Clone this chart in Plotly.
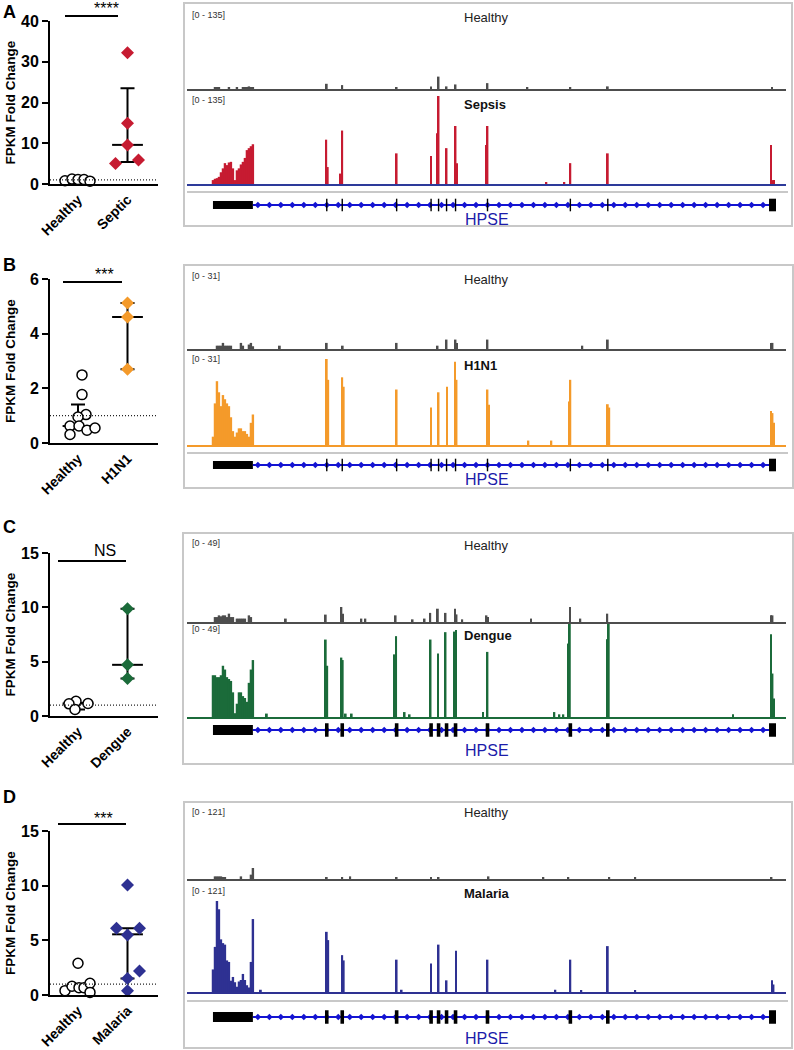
import plotly.graph_objects as go

W, H = 794, 1050
FONT = "Liberation Sans, Arial, sans-serif"

# ---------------- dot plots: FPKM fold change ----------------
DISEASE_TICKS = ["Septic", "H1N1", "Dengue", "Malaria"]
TRACK_NAMES = ["Sepsis", "H1N1", "Dengue", "Malaria"]
DISEASE_COLORS = ["#c61b31", "#f49a2a", "#1b6b3a", "#2e3192"]

A_HEALTHY = [0.8, 1.2, 1.1, 1.1, 0.7]
A_SEPTIC = [32.2, 14.9, 9.6, 5.0, 5.9]
A_SEPTIC_STATS = [9.6, 5.4, 23.5]          # median, low, high

B_HEALTHY = [2.49, 1.77, 1.04, 0.95, 0.62, 0.62, 0.47, 0.55, 0.31]
B_HEALTHY_STATS = [0.62, 0.53, 1.41]
B_H1N1 = [5.12, 4.61, 2.7]
B_H1N1_STATS = [4.61, 2.7, 5.12]

C_HEALTHY = [1.35, 1.15, 1.12, 0.6]
C_HEALTHY_STATS = [1.15, 0.6, 1.2]
C_DENGUE = [9.86, 4.71, 3.46]
C_DENGUE_STATS = [4.71, 3.46, 9.86]

D_HEALTHY = [2.9, 0.4, 0.8, 0.67, 0.67, 1.07, 0.24]
D_HEALTHY_STATS = [0.7, 0.46, 1.0]
D_MALARIA = [10.06, 6.1, 6.1, 5.49, 2.2, 1.52, 0.4]
D_MALARIA_STATS = [5.55, 1.52, 6.1]

SIGNIF = ["****", "***", "NS", "***"]
Y_MAX = [40, 6, 15, 15]
Y_DTICK = [10, 2, 5, 5]

# ---------------- coverage tracks (HPSE locus) ----------------
TRACK_SCALE = [135, 31, 49, 121]
EXON1_BINS = [26, 28, 30, 32, 34, 36, 38, 40, 42, 44, 46, 48, 50, 52, 54, 56, 58, 60, 62, 64, 66]

SEPSIS_EXON1 = [6, 8, 9, 11, 18, 24, 32, 29, 33, 34, 24, 6, 21, 24, 30, 34, 40, 52, 55, 58, 61]
SEPSIS_PEAK_POS = [139.5, 141, 154, 155.5, 210, 244.5, 250.5, 252, 260, 269, 270.5, 299.5, 301,
                   360, 378, 384, 421.5, 585, 586.5, 588]
SEPSIS_PEAK_VAL = [68, 26, 16, 82, 47, 43, 78, 135, 55, 89, 32, 60, 89, 3, 3, 32, 47, 60, 6, 6]
HEALTHY_A_EXON1 = [0, 2, 2, 2, 0, 0, 0, 0, 2, 0, 0, 0, 2, 0, 0, 3, 3, 3, 4, 3, 2]
HEALTHY_A_PEAK_POS = [140, 155.5, 210, 244.5, 252, 260, 269, 301, 341, 384, 421.5, 586]
HEALTHY_A_PEAK_VAL = [8, 6, 3, 4, 19, 4, 7, 9, 2, 3, 4, 3]

H1N1_EXON1 = [3, 15, 23, 19, 14, 18, 16.5, 15, 14, 10, 5, 3, 4.5, 6, 6, 5, 5, 4, 3, 8, 11]
H1N1_PEAK_POS = [140, 141.5, 155.5, 157, 210, 244.5, 252, 260.5, 268.5, 270, 301, 302.5,
                 342, 365, 383, 384, 421.5, 423, 585, 586.5, 588]
H1N1_PEAK_VAL = [31, 23.5, 24.4, 21, 20, 13.5, 19, 21, 30, 23.5, 20, 14.5,
                 1.6, 1.6, 15.7, 23.5, 14.7, 13.5, 12.3, 11.5, 8]
HEALTHY_B_EXON1 = [0, 0, 1.2, 1.2, 1.2, 2.2, 1.2, 1.2, 1.2, 1.2, 0, 0, 0, 0, 2.2, 1.2, 0, 0, 1.6, 2.2, 1.0]
HEALTHY_B_PEAK_POS = [93, 140, 156, 210, 251, 260, 269, 270.5, 301, 396, 421.5, 585, 586.5]
HEALTHY_B_PEAK_VAL = [1.2, 2.2, 1.2, 2.2, 1.2, 3.4, 3.4, 2.2, 3.4, 1.2, 3.4, 2.2, 2.2]

DENGUE_EXON1 = [22, 22, 21, 21, 22, 27, 25, 21, 20, 19, 13, 2, 7, 13, 13, 11, 10, 8, 18, 25, 30]
DENGUE_PEAK_POS = [80, 139, 140.5, 154.7, 156, 159, 165, 208, 209.5, 218, 223, 244, 251.5, 259,
                   268, 269.5, 296.5, 301, 368, 373, 377, 382, 383.5, 421, 422.5, 547, 585, 586.5, 588]
DENGUE_PEAK_VAL = [1.8, 40.8, 27, 31.3, 30, 1.8, 1.8, 33, 42.6, 2.6, 1.4, 40.8, 33.4, 44.7,
                   45, 45.8, 2.6, 34.3, 2.6, 1.4, 1.4, 38.7, 49, 41, 49, 1.4, 43.6, 22.9, 9.7]
HEALTHY_C_EXON1 = [0, 2.6, 2.6, 3.5, 3, 3.5, 3.5, 2.6, 4.4, 2.6, 2.6, 0, 1.8, 1.8, 1.8, 1.8, 1.8, 0, 3.5, 2.6, 0]
HEALTHY_C_PEAK_POS = [99, 139, 154.7, 156.2, 174.7, 178.7, 209, 226, 238, 243.7, 251.3, 259, 268.5,
                      270, 275.7, 300, 301.5, 344.7, 383.7, 394, 421, 585, 586.5]
HEALTHY_C_PEAK_VAL = [1.8, 3.9, 7.9, 4.4, 1.8, 1.8, 3.5, 1.4, 1.8, 4.8, 7, 4.8, 7,
                      4, 1.4, 3.5, 2.6, 1.8, 7.9, 1.8, 4.4, 3.5, 3.5]

MALARIA_EXON1 = [30, 60, 121, 110, 70, 65, 63, 42, 40, 15, 20, 13, 7, 14, 16, 24, 16, 9, 6, 40, 97]
MALARIA_PEAK_POS = [74, 140, 141.5, 155.5, 157, 210, 215, 244.5, 252, 260, 269.5, 301, 369,
                    384, 395, 421.5, 449, 586, 587.5]
MALARIA_PEAK_VAL = [3, 80, 69, 49, 42, 43, 3, 38, 63, 15.5, 55, 43, 3, 43, 2, 61, 2, 15.5, 10]
HEALTHY_D_EXON1 = [0, 3.5, 3.5, 3.5, 3.5, 2.6, 2.6, 0, 0, 0, 0, 0, 0, 0, 3.5, 0, 0, 0, 0, 5.8, 14.6]
HEALTHY_D_PEAK_POS = [140, 155.5, 163.5, 210, 244.5, 252, 302, 357, 382, 423, 449, 585.5]
HEALTHY_D_PEAK_VAL = [2.6, 2, 3.5, 2.6, 2.6, 2.6, 3.5, 1.5, 2.6, 1.5, 2.6, 1.5]

# gene model (same coordinate frame as tracks)
EXON1 = [26, 66]
EXON_CENTERS = [140, 155.5, 210, 244.5, 252, 260, 269, 301, 384, 421.5]
LAST_EXON = [583, 590]

# --------------- layout geometry (pixels) ----------------
PANELS = [
    dict(letter="A", letter_y=12, sc=(21, 184), sig_x=(65, 118), sig_y=16, sig_t=9,
         box=(184, 3, 792, 226), htrk=(1, 89), dtrk=(96, 184), sep=192, gene=205, hpse=219,
         lab=(15, 100), name=(17, 104), base="#2d3a9a", thick=False,
         healthy=(A_HEALTHY, [-13, -6, 0, 6, 12], None),
         disease=(A_SEPTIC, [0, 0, 0, -12, 11], A_SEPTIC_STATS),
         tracks=((HEALTHY_A_EXON1, HEALTHY_A_PEAK_POS, HEALTHY_A_PEAK_VAL),
                 (SEPSIS_EXON1, SEPSIS_PEAK_POS, SEPSIS_PEAK_VAL))),
    dict(letter="B", letter_y=265, sc=(279, 443), sig_x=(63, 122), sig_y=282, sig_t=275,
         box=(184, 265, 793, 488), htrk=(263, 349), dtrk=(359, 445), sep=453, gene=465, hpse=480,
         lab=(276, 359), name=(279, 365), base="#f49a2a", thick=False,
         healthy=(B_HEALTHY, [4, 4, 8, 0, -8, 1, 9, 17, -8], B_HEALTHY_STATS),
         disease=(B_H1N1, [0, 0, 0], B_H1N1_STATS),
         tracks=((HEALTHY_B_EXON1, HEALTHY_B_PEAK_POS, HEALTHY_B_PEAK_VAL),
                 (H1N1_EXON1, H1N1_PEAK_POS, H1N1_PEAK_VAL))),
    dict(letter="C", letter_y=527, sc=(553, 716), sig_x=(58, 126), sig_y=561, sig_t=550,
         box=(183, 533, 793, 764), htrk=(529, 622), dtrk=(624, 717), sep=None, gene=730, hpse=750,
         lab=(543, 629), name=(545, 635), base="#1b6b3a", thick=True,
         healthy=(C_HEALTHY, [-2, 10, -9, -3], C_HEALTHY_STATS),
         disease=(C_DENGUE, [0, 0, 0], C_DENGUE_STATS),
         tracks=((HEALTHY_C_EXON1, HEALTHY_C_PEAK_POS, HEALTHY_C_PEAK_VAL),
                 (DENGUE_EXON1, DENGUE_PEAK_POS, DENGUE_PEAK_VAL))),
    dict(letter="D", letter_y=797, sc=(831, 995), sig_x=(58, 126), sig_y=824, sig_t=818,
         box=(184, 802, 792, 1048), htrk=(788, 879), dtrk=(901, 992), sep=1001, gene=1017, hpse=1038,
         lab=(812, 891), name=(812, 893), base="#2e3192", thick=True,
         healthy=(D_HEALTHY, [0, -13, -6, 1, 6, 12, 12], D_HEALTHY_STATS),
         disease=(D_MALARIA, [0, -11, 12, 0, 12, 0, 0], D_MALARIA_STATS),
         tracks=((HEALTHY_D_EXON1, HEALTHY_D_PEAK_POS, HEALTHY_D_PEAK_VAL),
                 (MALARIA_EXON1, MALARIA_PEAK_POS, MALARIA_PEAK_VAL))),
]

SC_X = (50, 158)
PX_PER_CAT = 49.5
TRK_X = (187, 786)
TRK_RANGE = [0, 600]
HEALTHY_GRAY = "#4d4d4d"
GENE_BLUE = "#1414d2"
BOX_GRAY = "#c8c8c8"


def xdom(a, b):
    return [a / W, b / W]


def ydom(top, bottom):
    return [1 - bottom / H, 1 - top / H]


def py(p):
    return 1 - p / H


def sfx(n):
    return "" if n == 1 else str(n)


fig = go.Figure()
layout = {}
shapes = []
annots = []

for i, P in enumerate(PANELS):
    n_sc, n_h, n_d, n_g = 4 * i + 1, 4 * i + 2, 4 * i + 3, 4 * i + 4
    color = DISEASE_COLORS[i]

    # ---------- dot plot ----------
    xa, ya = "x" + sfx(n_sc), "y" + sfx(n_sc)
    x0 = 1 - (78 - SC_X[0]) / PX_PER_CAT
    x1 = 2 + (SC_X[1] - 127.5) / PX_PER_CAT
    layout["xaxis" + sfx(n_sc)] = dict(
        domain=xdom(*SC_X), range=[x0, x1], anchor=ya, showline=True, linewidth=2,
        linecolor="black", ticks="", tickvals=[1, 2], ticktext=["Healthy", DISEASE_TICKS[i]],
        tickangle=-45, tickfont=dict(size=14, weight=700, color="black"),
        showgrid=False, zeroline=False, automargin=False)
    layout["yaxis" + sfx(n_sc)] = dict(
        domain=ydom(*P["sc"]), range=[0, Y_MAX[i]], dtick=Y_DTICK[i], anchor=xa,
        showline=True, linewidth=2, linecolor="black", ticks="outside", ticklen=6,
        tickwidth=2, tickcolor="black", tickfont=dict(size=16, weight=700, color="black"),
        showgrid=False, zeroline=False, automargin=False)
    shapes.append(dict(type="line", xref=xa + " domain", yref=ya, x0=0, x1=1, y0=1, y1=1,
                       line=dict(color="#222222", width=1.2, dash="1px,2px")))

    for cat, (vals, offs, stats), sym, mcol in (
            (1, P["healthy"], "circle", "white"),
            (2, P["disease"], "diamond", color)):
        if stats is not None:
            med, lo, hi = stats
            fig.add_trace(go.Scatter(
                x=[cat], y=[med], xaxis=xa, yaxis=ya, mode="markers", cliponaxis=False,
                marker=dict(symbol="line-ew", size=22, line=dict(width=2, color="black")),
                error_y=dict(type="data", symmetric=False, array=[hi - med],
                             arrayminus=[med - lo], width=7, thickness=2, color="black"),
                showlegend=False))
        fig.add_trace(go.Scatter(
            x=[cat + o / PX_PER_CAT for o in offs], y=vals, xaxis=xa, yaxis=ya,
            mode="markers", cliponaxis=False,
            marker=dict(symbol=sym, size=10, color=mcol,
                        line=dict(width=1.5 if sym == "circle" else 0, color="black")),
            showlegend=False))

    # significance bar
    shapes.append(dict(type="line", xref="paper", yref="paper",
                       x0=P["sig_x"][0] / W, x1=P["sig_x"][1] / W,
                       y0=py(P["sig_y"]), y1=py(P["sig_y"]),
                       line=dict(color="black", width=2)))
    annots.append(dict(text=SIGNIF[i], x=(P["sig_x"][0] + P["sig_x"][1]) / 2 / W,
                       y=py(P["sig_t"]), xref="paper", yref="paper", showarrow=False,
                       font=dict(size=16, color="black"), yanchor="middle"))
    annots.append(dict(text=P["letter"], x=9 / W, y=py(P["letter_y"]), xref="paper",
                       yref="paper", showarrow=False, xanchor="center", yanchor="middle",
                       font=dict(size=18, weight=700, color="black")))
    annots.append(dict(text="FPKM Fold Change", x=10 / W,
                       y=py((P["sc"][0] + P["sc"][1]) / 2), xref="paper", yref="paper",
                       showarrow=False, textangle=-90, xanchor="center", yanchor="middle",
                       font=dict(size=13.5, weight=700, color="black")))

    # ---------- coverage tracks ----------
    scale = TRACK_SCALE[i]
    for n, dom, col, basecol, (ex1, ppos, pval) in (
            (n_h, P["htrk"], HEALTHY_GRAY, HEALTHY_GRAY, P["tracks"][0]),
            (n_d, P["dtrk"], color, P["base"], P["tracks"][1])):
        xa_t, ya_t = "x" + sfx(n), "y" + sfx(n)
        layout["xaxis" + sfx(n)] = dict(
            domain=xdom(*TRK_X), range=TRK_RANGE, anchor=ya_t, showline=True,
            linecolor=basecol, linewidth=2, ticks="", showticklabels=False,
            showgrid=False, zeroline=False, automargin=False)
        layout["yaxis" + sfx(n)] = dict(
            domain=ydom(*dom), range=[0, scale], anchor=xa_t, visible=False,
            showgrid=False, zeroline=False, automargin=False)
        fig.add_trace(go.Bar(x=EXON1_BINS, y=ex1, width=2.4, xaxis=xa_t, yaxis=ya_t,
                             marker=dict(color=col, line=dict(width=0)), showlegend=False))
        fig.add_trace(go.Bar(x=ppos, y=pval, width=1.8, xaxis=xa_t, yaxis=ya_t,
                             marker=dict(color=col, line=dict(width=0)), showlegend=False))

    # ---------- gene model ----------
    xa_g, ya_g = "x" + sfx(n_g), "y" + sfx(n_g)
    layout["xaxis" + sfx(n_g)] = dict(domain=xdom(*TRK_X), range=TRK_RANGE, anchor=ya_g,
                                      visible=False, automargin=False)
    layout["yaxis" + sfx(n_g)] = dict(domain=ydom(P["gene"] - 9, P["gene"] + 9),
                                      range=[-1, 1], anchor=xa_g, visible=False,
                                      automargin=False)
    fig.add_trace(go.Scatter(x=[EXON1[1], LAST_EXON[0]], y=[0, 0], xaxis=xa_g, yaxis=ya_g,
                             mode="lines", line=dict(color=GENE_BLUE, width=2),
                             showlegend=False))
    chevrons = [EXON1[1] + 5 + 11.5 * k for k in range(int((LAST_EXON[0] - EXON1[1] - 6) / 11.5) + 1)]
    fig.add_trace(go.Scatter(x=chevrons, y=[0] * len(chevrons), xaxis=xa_g, yaxis=ya_g,
                             mode="markers", marker=dict(symbol="diamond", size=5,
                                                         color=GENE_BLUE),
                             showlegend=False))
    e1h = 0.55 if P["thick"] else 0.45
    shapes.append(dict(type="rect", xref=xa_g, yref=ya_g, x0=EXON1[0], x1=EXON1[1],
                       y0=-e1h, y1=e1h, fillcolor="black", line=dict(width=0)))
    hw = 1.8 if P["thick"] else 0.7
    eh = 0.75 if P["thick"] else 0.7
    for c in EXON_CENTERS:
        shapes.append(dict(type="rect", xref=xa_g, yref=ya_g, x0=c - hw, x1=c + hw,
                           y0=-eh, y1=eh, fillcolor="black", line=dict(width=0)))
    shapes.append(dict(type="rect", xref=xa_g, yref=ya_g, x0=LAST_EXON[0], x1=LAST_EXON[1],
                       y0=-eh, y1=eh, fillcolor="black", line=dict(width=0)))

    # ---------- frame, separators and labels ----------
    bx0, by0, bx1, by1 = P["box"]
    shapes.append(dict(type="rect", xref="paper", yref="paper", x0=bx0 / W, x1=bx1 / W,
                       y0=py(by1), y1=py(by0), line=dict(color=BOX_GRAY, width=2)))
    if P["sep"] is not None:
        shapes.append(dict(type="line", xref="paper", yref="paper", x0=187 / W, x1=788 / W,
                           y0=py(P["sep"]), y1=py(P["sep"]),
                           line=dict(color=BOX_GRAY, width=2)))
    for yy in P["lab"]:
        annots.append(dict(text=f"[0 - {scale}]", x=190 / W, y=py(yy), xref="paper",
                           yref="paper", showarrow=False, xanchor="left", yanchor="middle",
                           font=dict(size=9, color="#333333")))
    annots.append(dict(text="Healthy", x=462 / W, y=py(P["name"][0]), xref="paper",
                       yref="paper", showarrow=False, xanchor="left", yanchor="middle",
                       font=dict(size=13, color="#222222")))
    annots.append(dict(text=TRACK_NAMES[i], x=462 / W, y=py(P["name"][1]), xref="paper",
                       yref="paper", showarrow=False, xanchor="left", yanchor="middle",
                       font=dict(size=13, weight=700, color="#111111")))
    annots.append(dict(text="HPSE", x=463 / W, y=py(P["hpse"]), xref="paper", yref="paper",
                       showarrow=False, xanchor="left", yanchor="middle",
                       font=dict(size=16, color="#1c1caa")))

fig.update_layout(
    width=W, height=H, margin=dict(l=0, r=0, t=0, b=0, autoexpand=False),
    paper_bgcolor="white", plot_bgcolor="rgba(0,0,0,0)",
    font=dict(family=FONT, color="black"), barmode="overlay", showlegend=False,
    shapes=shapes, annotations=annots, **layout)

# the page body has a default 8px margin; remove it so the figure fills the window
fig.write_html("out.html", config={"displayModeBar": False},
               post_script="document.body.style.margin = '0';")
